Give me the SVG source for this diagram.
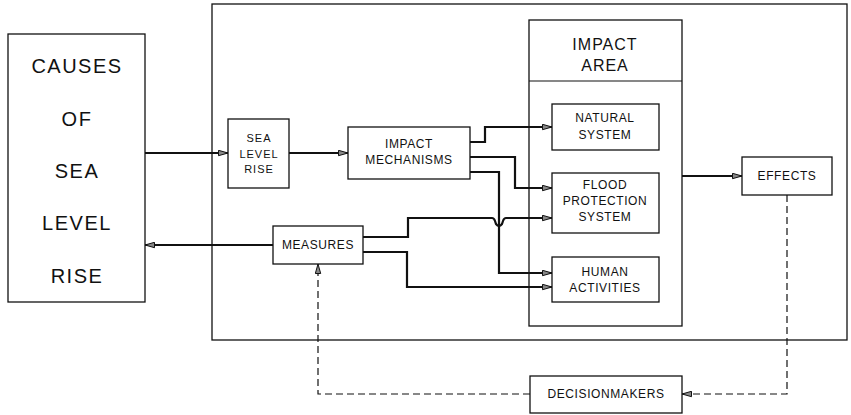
<svg xmlns="http://www.w3.org/2000/svg" width="851" height="415" viewBox="0 0 851 415">
<style>
.box{fill:#fff;stroke:#111;stroke-width:1.3}
.t{font-family:"Liberation Sans",Arial,sans-serif;fill:#111;text-anchor:middle;dominant-baseline:central;font-size:12px;letter-spacing:0.6px}
.big{font-size:20px;letter-spacing:1.5px;font-weight:normal}
.mid{font-size:16px;letter-spacing:1px}
.sm{font-size:11px;letter-spacing:1px}
.c{fill:none;stroke:#111;stroke-width:2.2}
.d{fill:none;stroke:#111;stroke-width:1.2;stroke-dasharray:7 4}
</style>
<defs>
<marker id="ah" markerWidth="11" markerHeight="7" refX="10" refY="3.5" orient="auto" markerUnits="userSpaceOnUse">
<path d="M0.5,0.8 L10,3.5 L0.5,6.2 Z" fill="#888" stroke="#111" stroke-width="1"/>
</marker>
</defs>
<rect id="system" class="box" x="212" y="4" width="635" height="336"/>
<g id="causes">
<rect class="box" x="8" y="34" width="137" height="268"/>
<text class="t big" x="77" y="66">CAUSES</text>
<text class="t big" x="77" y="119">OF</text>
<text class="t big" x="77" y="171">SEA</text>
<text class="t big" x="77" y="223">LEVEL</text>
<text class="t big" x="77" y="276">RISE</text>
</g>
<g id="slr">
<rect class="box" x="228" y="119" width="61" height="69"/>
<text class="t sm" x="259" y="138">SEA</text>
<text class="t sm" x="259" y="154">LEVEL</text>
<text class="t sm" x="259" y="169">RISE</text>
</g>
<g id="mechanisms">
<rect class="box" x="348" y="127" width="122" height="52"/>
<text class="t" x="409" y="144">IMPACT</text>
<text class="t" x="409" y="160">MECHANISMS</text>
</g>
<g id="measures">
<rect class="box" x="273" y="226" width="90" height="38"/>
<text class="t" x="318" y="245">MEASURES</text>
</g>
<g id="impactarea">
<rect class="box" x="529" y="20" width="153" height="306"/>
<line x1="529" y1="81" x2="682" y2="81" stroke="#111" stroke-width="1.2"/>
<text class="t mid" x="605" y="44">IMPACT</text>
<text class="t mid" x="605" y="65">AREA</text>
</g>
<g id="natural">
<rect class="box" x="552" y="104" width="107" height="46"/>
<text class="t" x="605" y="118">NATURAL</text>
<text class="t" x="605" y="135">SYSTEM</text>
</g>
<g id="flood">
<rect class="box" x="552" y="173" width="107" height="60"/>
<text class="t" x="605" y="185">FLOOD</text>
<text class="t" x="605" y="201">PROTECTION</text>
<text class="t" x="605" y="217">SYSTEM</text>
</g>
<g id="human">
<rect class="box" x="552" y="257" width="107" height="45"/>
<text class="t" x="605" y="272">HUMAN</text>
<text class="t" x="605" y="288">ACTIVITIES</text>
</g>
<g id="effects">
<rect class="box" x="742" y="157" width="90" height="38"/>
<text class="t" x="787" y="176">EFFECTS</text>
</g>
<g id="decisionmakers">
<rect class="box" x="530" y="376" width="152" height="37"/>
<text class="t" x="606" y="394">DECISIONMAKERS</text>
</g>
<g id="connectors">
<path class="c" d="M145,153 H228" marker-end="url(#ah)"/>
<path class="c" d="M289,153 H348" marker-end="url(#ah)"/>
<path class="c" d="M273,245 H145" marker-end="url(#ah)"/>
<path class="c" d="M470,142 H485 V127 H552" marker-end="url(#ah)"/>
<path class="c" d="M470,157 H515 V188 H552" marker-end="url(#ah)"/>
<path class="c" d="M470,172 H499 V273 H552" marker-end="url(#ah)"/>
<path class="c" d="M363,237 H408 V218 H492 Q494,218 495,221 L496,224 Q499,228 502,224 L503,221 Q504,218 506,218 H552" marker-end="url(#ah)"/>
<path class="c" d="M363,252 H407 V287 H552" marker-end="url(#ah)"/>
<path class="c" d="M682,176 H742" marker-end="url(#ah)"/>
<path class="d" d="M787,195 V394 H682" marker-end="url(#ah)"/>
<path class="d" d="M530,394 H318 V264" marker-end="url(#ah)"/>
</g>
</svg>
